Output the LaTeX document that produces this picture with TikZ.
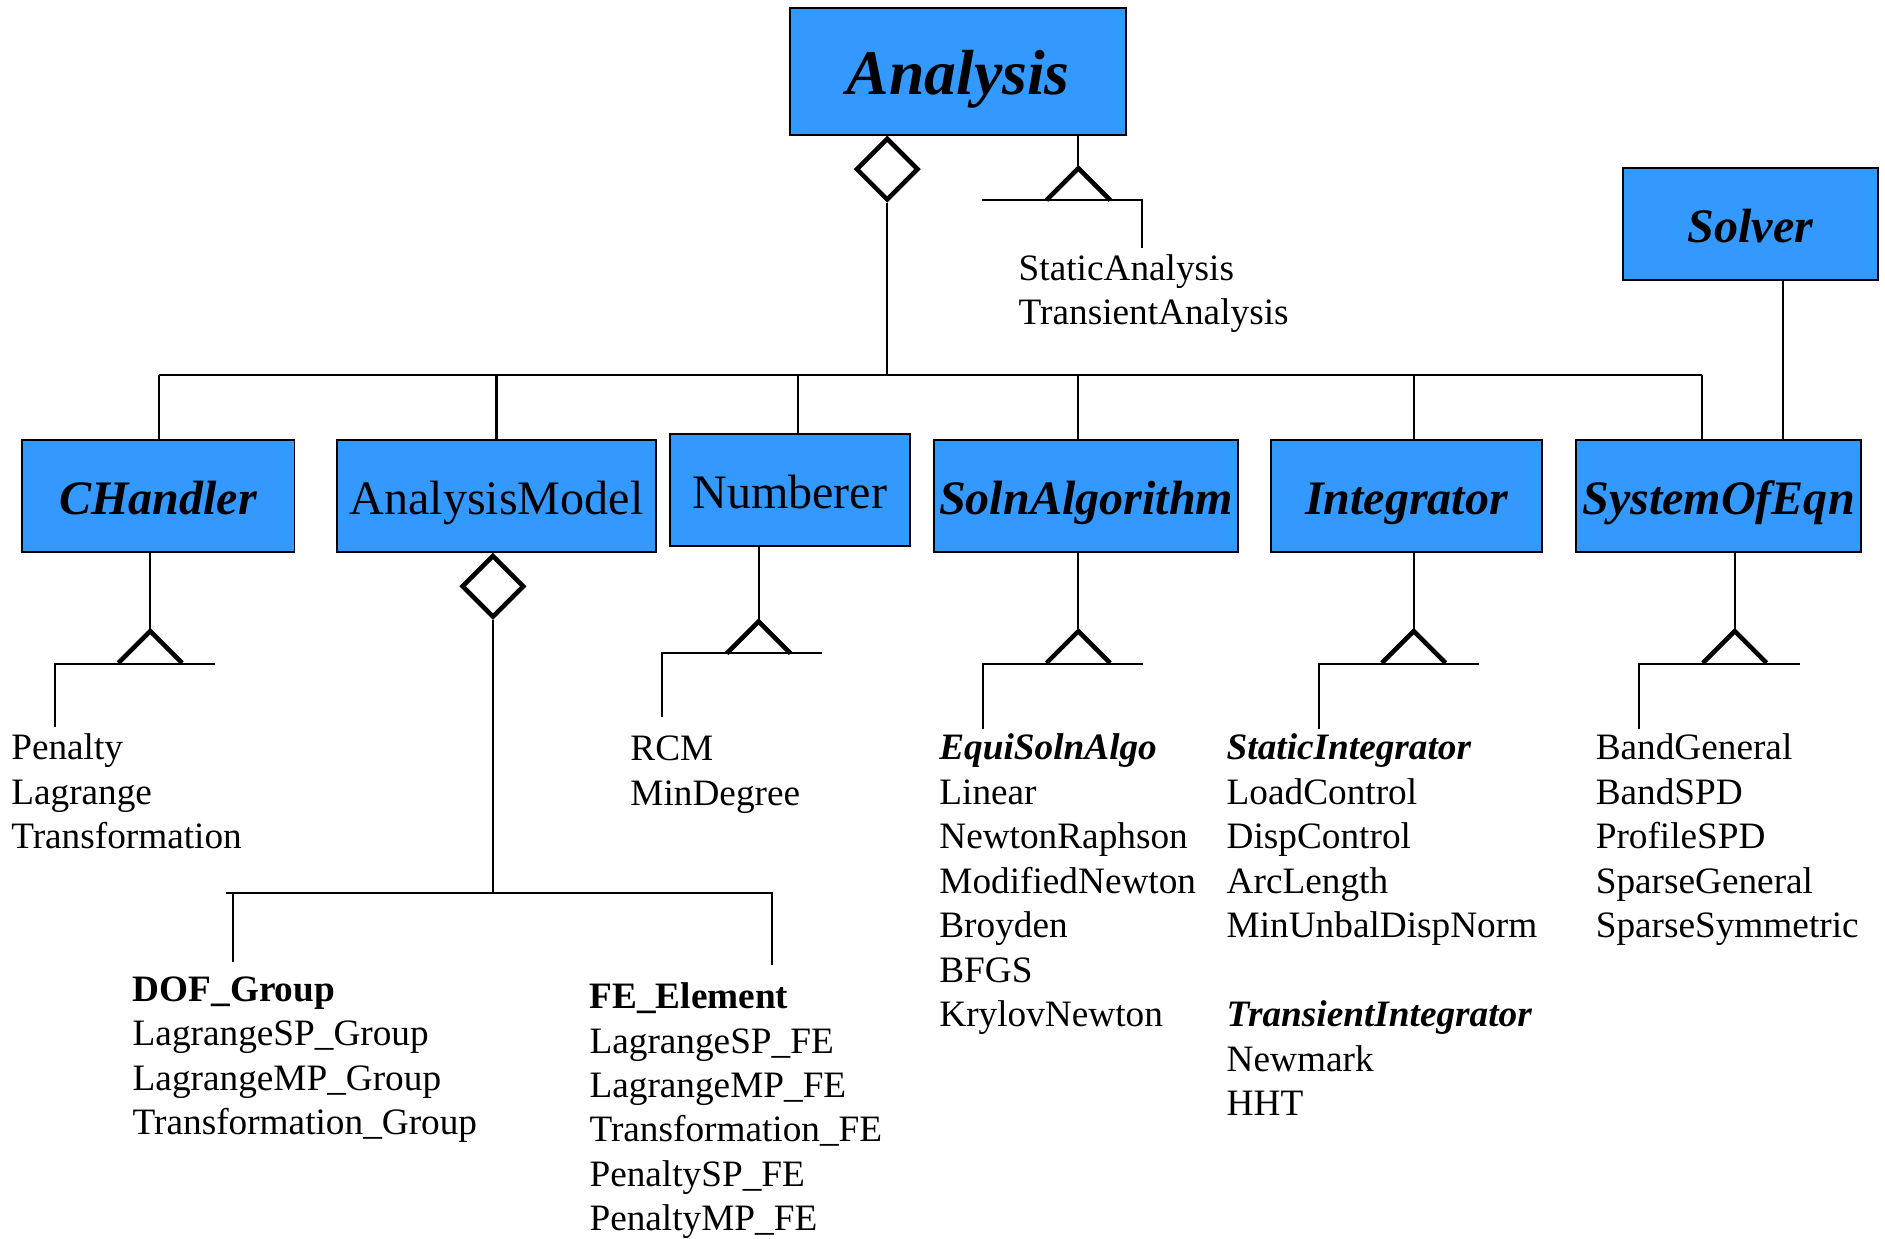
\documentclass[tikz,border=0pt]{standalone}
\usepackage{fontspec}
\setmainfont{Liberation Serif}
\usetikzlibrary{shapes,positioning}
\definecolor{classblue}{RGB}{51,153,255}
\tikzset{
    block/.style={
            rectangle,
            draw,
            fill=classblue,
            line width=0.8pt,
            inner sep=0pt,
            minimum height=46.5pt,
            text height=15.5pt,
            text depth=0pt,
            font=\fontsize{20}{24}\selectfont\bfseries\itshape
        },
    plain block/.style={
            block,
            font=\fontsize{20}{24}\selectfont
        },
    aggregate/.style={
            diamond,
            draw,
            fill=white,
            line width=1.9pt,
            inner sep=0pt,
            minimum width=26pt,
            minimum height=26pt
        },
    wedge/.style={
            line width=1.9pt
        },
    link/.style={
            line width=0.85pt
        },
    members/.style={
            anchor=north west,
            inner sep=0pt,
            align=left,
            font=\fontsize{15.5}{18.5}\selectfont
        }
}

\begin{document}
\begin{tikzpicture}[x=0.5pt,y=-0.5pt]
  \useasboundingbox (0,0) rectangle (1568,1030);
  \node[block, minimum width=140pt, minimum height=52.5pt, text height=19.5pt, font=\fontsize{26.5}{30}\selectfont\bfseries\itshape] (analysis) at (797,59.5) {Analysis};
  \node[block, minimum width=106pt] (solver) at (1456,186.5) {Solver};
  \node[block, minimum width=113.5pt] (chandler) at (131.5,412.5) {CHandler};
  \node[plain block, minimum width=133pt] (amodel) at (413,412.5) {AnalysisModel};
  \node[plain block, minimum width=100pt] (numberer) at (657,407.5) {Numberer};
  \node[block, minimum width=126.5pt] (algo) at (903.5,412.5) {SolnAlgorithm};
  \node[block, minimum width=113pt] (integ) at (1170,412.5) {Integrator};
  \node[block, minimum width=118.5pt] (soe) at (1429.5,412.5) {SystemOfEqn};

  \node[aggregate, anchor=north] (has) at (738,0 |- analysis.south) {};
  \node[aggregate, anchor=north] (owns) at (410,0 |- amodel.south) {};
  \coordinate (bus) at (0,312);
  \draw[link] (has.south) -- (has.south |- bus);
  \draw[link] (132,0 |- bus) -- (1416,0 |- bus);
  \draw[link] (132,0 |- bus) -- (132,0 |- chandler.north);
  \draw[link] (413,0 |- bus) -- (413,0 |- amodel.north);
  \draw[link] (664,0 |- bus) -- (664,0 |- numberer.north);
  \draw[link] (897,0 |- bus) -- (897,0 |- algo.north);
  \draw[link] (1176,0 |- bus) -- (1176,0 |- integ.north);
  \draw[link] (1416,0 |- bus) -- (1416,0 |- soe.north);
  \draw[link] (1483,0 |- solver.south) -- (1483,0 |- soe.north);

  \node[members] (analysis-kinds) at (847,211) {StaticAnalysis\\TransientAnalysis};
  \node[members] (handlers) at (9,610) {Penalty\\Lagrange\\Transformation};
  \node[members] (orderings) at (524,612) {RCM\\MinDegree};
  \node[members] (algos) at (781,610) {{\bfseries\itshape EquiSolnAlgo}\\Linear\\NewtonRaphson\\ModifiedNewton\\Broyden\\BFGS\\KrylovNewton};
  \node[members] (integrators) at (1020,610) {{\bfseries\itshape StaticIntegrator}\\LoadControl\\DispControl\\ArcLength\\MinUnbalDispNorm\\[18.5pt]{\bfseries\itshape TransientIntegrator}\\Newmark\\HHT};
  \node[members] (systems) at (1327,610) {BandGeneral\\BandSPD\\ProfileSPD\\SparseGeneral\\SparseSymmetric};
  \node[members] (dofs) at (110,812) {{\bfseries DOF\_Group}\\LagrangeSP\_Group\\LagrangeMP\_Group\\Transformation\_Group};
  \node[members] (elements) at (490,817) {{\bfseries FE\_Element}\\LagrangeSP\_FE\\LagrangeMP\_FE\\Transformation\_FE\\PenaltySP\_FE\\PenaltyMP\_FE};

  \foreach \cls/\x/\y/\l/\r in {analysis/897/140/817/950, chandler/125/525/46/179, numberer/631/517/551/684, algo/897/525/818/951, integ/1176/525/1097/1230, soe/1443/525/1363/1497} {
    \draw[link] (\x,0 |- \cls.south) -- (\x,\y);
    \draw[wedge] ({\x-26.5},{\y+26.5}) -- (\x,\y) -- ({\x+26.5},{\y+26.5});
  }
  \draw[link] (817,166) -- (950,166) -- (950,206);
  \draw[link] (179,552) -- (46,552) -- (46,605);
  \draw[link] (684,543) -- (551,543) -- (551,596);
  \draw[link] (951,552) -- (818,552) -- (818,606);
  \draw[link] (1230,552) -- (1097,552) -- (1097,606);
  \draw[link] (1497,552) -- (1363,552) -- (1363,606);

  \draw[link] (owns.south) -- (owns.south |- 0,743);
  \draw[link] (188,743) -- (642,743) -- (642,803);
  \draw[link] (194,743) -- (194,800);
\end{tikzpicture}
\end{document}
